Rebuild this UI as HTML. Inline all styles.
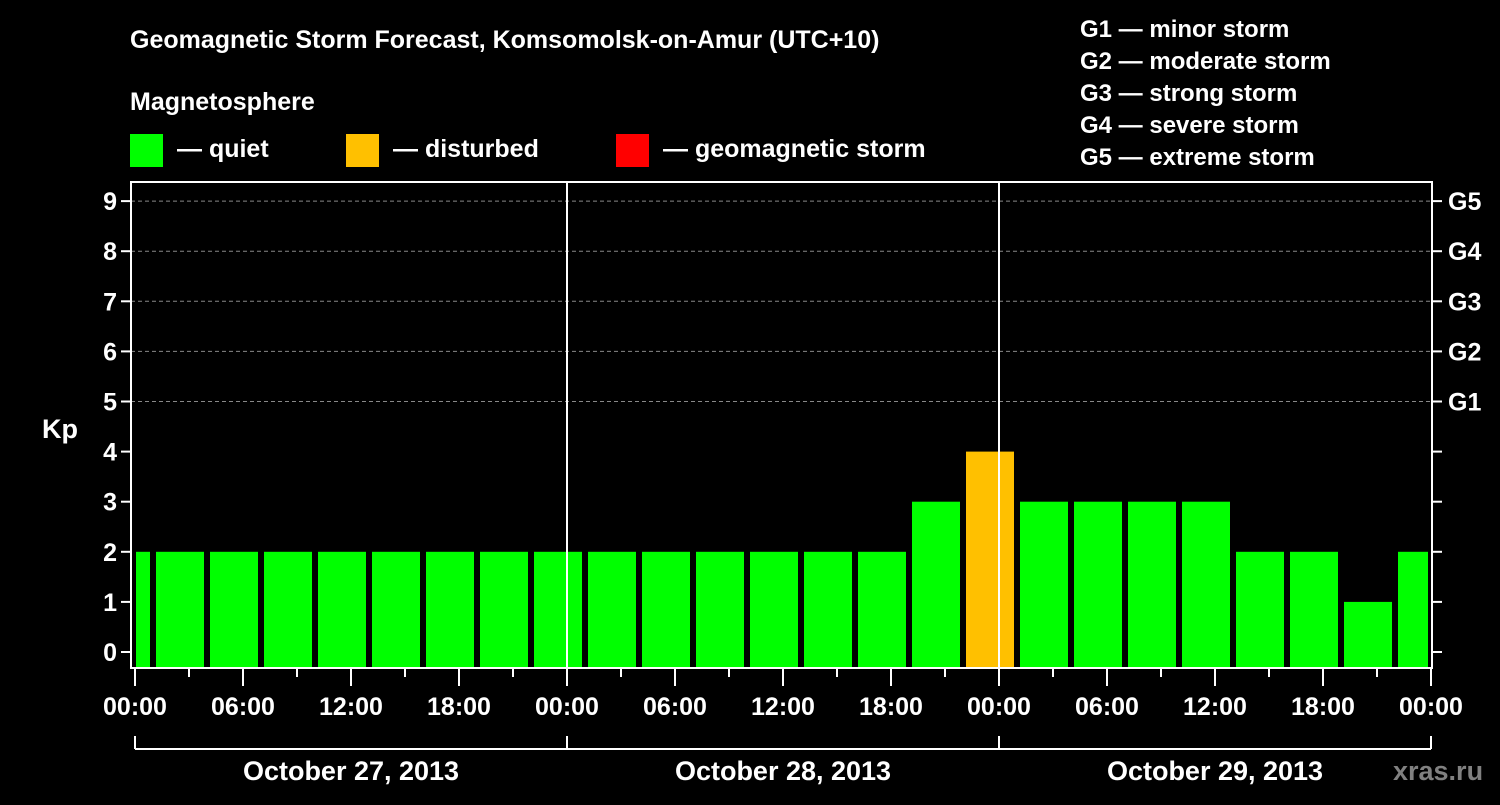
<!DOCTYPE html>
<html><head><meta charset="utf-8"><style>
body{margin:0;background:#000}
svg text{font-family:"Liberation Sans",Arial,sans-serif;font-weight:bold;fill:#fff}
</style></head><body>
<svg id="c" width="1500" height="800" xmlns="http://www.w3.org/2000/svg">
<rect width="1500" height="800" fill="#000"/>
<text x="130" y="48" font-size="25">Geomagnetic Storm Forecast, Komsomolsk-on-Amur (UTC+10)</text>
<text x="130" y="110" font-size="25">Magnetosphere</text>
<g><rect x="130" y="134" width="33" height="33" fill="#00ff00"/><text x="177" y="157" font-size="25">— quiet</text></g>
<g><rect x="346" y="134" width="33" height="33" fill="#ffc000"/><text x="393" y="157" font-size="25">— disturbed</text></g>
<g><rect x="616" y="134" width="33" height="33" fill="#ff0000"/><text x="663" y="157" font-size="25">— geomagnetic storm</text></g>
<g font-size="24">
<text x="1080" y="37">G1 — minor storm</text>
<text x="1080" y="69">G2 — moderate storm</text>
<text x="1080" y="101">G3 — strong storm</text>
<text x="1080" y="133">G4 — severe storm</text>
<text x="1080" y="165">G5 — extreme storm</text>
</g>
<g id="grid"></g><g id="bars"></g><g id="axes"></g>
<text x="42" y="438" font-size="27">Kp</text>
<text x="1393" y="780" font-size="27" style="fill:#808080">xras.ru</text>
</svg>
<script>
const kpValues=[2,2,2,2,2,2,2,2,2,2,2,2,2,2,2,3,4,3,3,3,3,2,2,1,2];
const kpStatus=['q','q','q','q','q','q','q','q','q','q','q','q','q','q','q','q','d','q','q','q','q','q','q','q','q'];
const dayLabels=['October 27, 2013','October 28, 2013','October 29, 2013'];
const hourLabels=['00:00','06:00','12:00','18:00'];
const gLabels=['G1','G2','G3','G4','G5'];
const NS='http://www.w3.org/2000/svg';
const X0=135,PH=18,Y0=652,PK=50.1,L=131,R=1432,T=182,B=668;
const x=h=>X0+h*PH, y=k=>Y0-k*PK;
function mk(tag,at,parent){const e=document.createElementNS(NS,tag);for(const k in at)e.setAttribute(k,at[k]);document.getElementById(parent).appendChild(e);return e;}
const colors={q:'#00ff00',d:'#ffc000',s:'#ff0000'};
// grid lines
for(let k=5;k<=9;k++){const g=mk('line',{x1:L,x2:R,y1:y(k),y2:y(k),stroke:'#888','stroke-dasharray':'4,3','stroke-width':1},'grid');

}
// bars
kpValues.forEach((v,i)=>{
 let h0=i==0?0:1+(i-1)*3, h1=i==0?1:h0+3;
 let a=x(h0)+(i==0?1:3), b=Math.min(x(h1)-3,R-4);
 const r=mk('rect',{x:a,y:y(v),width:b-a,height:B-1-y(v),fill:colors[kpStatus[i]]},'bars');
 
 
});
// frame
const fr=mk('rect',{x:L,y:T,width:R-L,height:B-T,fill:'none',stroke:'#fff','stroke-width':2},'axes');


for(let d=1;d<3;d++){const l=mk('line',{x1:x(24*d),x2:x(24*d),y1:T,y2:B,stroke:'#fff','stroke-width':2},'axes');

}
for(let k=0;k<=9;k++){
 const t=mk('line',{x1:L-10,x2:L,y1:y(k),y2:y(k),stroke:'#fff','stroke-width':2},'axes');
 
 
 const t2=mk('line',{x1:R,x2:R+10,y1:y(k),y2:y(k),stroke:'#fff','stroke-width':2},'axes');
 
 
 const tx=mk('text',{x:L-14,y:y(k)+9,'font-size':25,'text-anchor':'end'},'axes');tx.textContent=k;
 
 
}
gLabels.forEach((g,i)=>{const tx=mk('text',{x:R+16,y:y(5+i)+9,'font-size':25},'axes');tx.textContent=g;

});
for(let h=0;h<=72;h+=3){
 const major=h%6==0;
 const t=mk('line',{x1:x(h),x2:x(h),y1:B,y2:B+(major?18:9),stroke:'#fff','stroke-width':2},'axes');
 
 
 if(major){const tx=mk('text',{x:x(h),y:715,'font-size':25,'text-anchor':'middle'},'axes');tx.textContent=hourLabels[(h%24)/6];
 
 }
}
const br=mk('line',{x1:x(0),x2:x(72),y1:749,y2:749,stroke:'#fff','stroke-width':2},'axes');


for(let d=0;d<=3;d++){const l=mk('line',{x1:x(24*d),x2:x(24*d),y1:736,y2:749,stroke:'#fff','stroke-width':2},'axes');

}
dayLabels.forEach((d,i)=>{const tx=mk('text',{x:x(24*i+12),y:780,'font-size':27,'text-anchor':'middle'},'axes');tx.textContent=d;

});
</script>
</body></html>
